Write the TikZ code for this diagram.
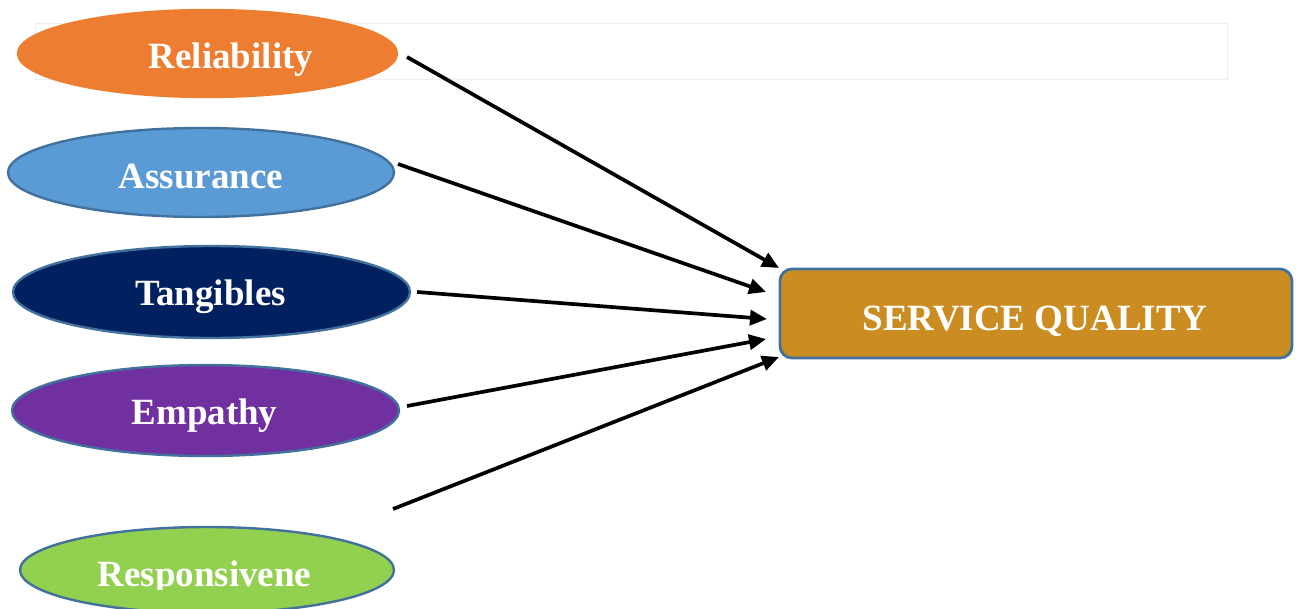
\documentclass[tikz,border=0pt]{standalone}
\usepackage{fontspec}
\setmainfont{Liberation Serif}
\usetikzlibrary{shapes.geometric,arrows.meta}

\definecolor{relfill}{HTML}{ED7D31}
\definecolor{assfill}{HTML}{5B9BD5}
\definecolor{tanfill}{HTML}{002060}
\definecolor{empfill}{HTML}{7030A0}
\definecolor{resfill}{HTML}{92D050}
\definecolor{sqfill}{HTML}{CB8D22}
\definecolor{rim}{HTML}{41719C}
\definecolor{faint}{HTML}{EEEEEE}

\tikzset{
  dim/.style={ellipse, inner sep=0pt, line width=2.4pt, draw=rim},
  lbl/.style={anchor=base, text=white, inner sep=0pt,
              font=\fontsize{37}{44}\selectfont\bfseries},
  qualitybox/.style={rectangle, rounded corners=12pt, fill=sqfill, draw=rim,
              line width=2.8pt, inner sep=0pt},
  conn/.style={line width=3.7pt, -{Triangle[length=17pt,width=15pt]}}
}

\begin{document}
\begin{tikzpicture}[x=1pt, y=-1pt]
\useasboundingbox (0,0) rectangle (1300,608);

% thin frame behind the first dimension
\draw[faint, line width=1pt] (35,23) rectangle (1227,79);

% the five dimensions
\node[dim, fill=relfill, draw=relfill, minimum width=379pt, minimum height=87pt] (rel) at (207.5,53.5) {};
\node[lbl] (reltxt) at (231,68) {Reliability};

\node[dim, fill=assfill, minimum width=386pt, minimum height=89pt] (ass) at (201,172.5) {};
\node[lbl] (asstxt) at (201,188) {Assurance};

\node[dim, fill=tanfill, minimum width=397pt, minimum height=92pt] (tan) at (211.5,292) {};
\node[lbl] (tantxt) at (210.5,305) {Tangibles};

\node[dim, fill=empfill, minimum width=387pt, minimum height=91pt] (emp) at (205.5,410.5) {};
\node[lbl] (emptxt) at (204.5,424) {Empathy};

\node[dim, fill=resfill, minimum width=374pt, minimum height=86pt] (res) at (207,570) {};
\begin{scope}
  \clip (0,0) rectangle (1300,589);
  \node[lbl] (restxt) at (204.5,586) {Responsivene};
\end{scope}

% the outcome
\node[qualitybox, minimum width=512pt, minimum height=89pt] (sq) at (1036,313.5) {};
\node[lbl] (sqtxt) at (1035,330) {SERVICE QUALITY};

% connector ends
\coordinate (s1) at (407,57);
\coordinate (s2) at (398,164);
\coordinate (s3) at (417,292);
\coordinate (s4) at (407,406);
\coordinate (s5) at (393,509);
\coordinate (t1) at (779,268);
\coordinate (t2) at (766,292);
\coordinate (t3) at (767,319);
\coordinate (t4) at (766,339);
\coordinate (t5) at (779,357);

\draw[conn] (s1) -- (t1);
\draw[conn] (s2) -- (t2);
\draw[conn] (s3) -- (t3);
\draw[conn] (s4) -- (t4);
\draw[conn] (s5) -- (t5);
\end{tikzpicture}
\end{document}
